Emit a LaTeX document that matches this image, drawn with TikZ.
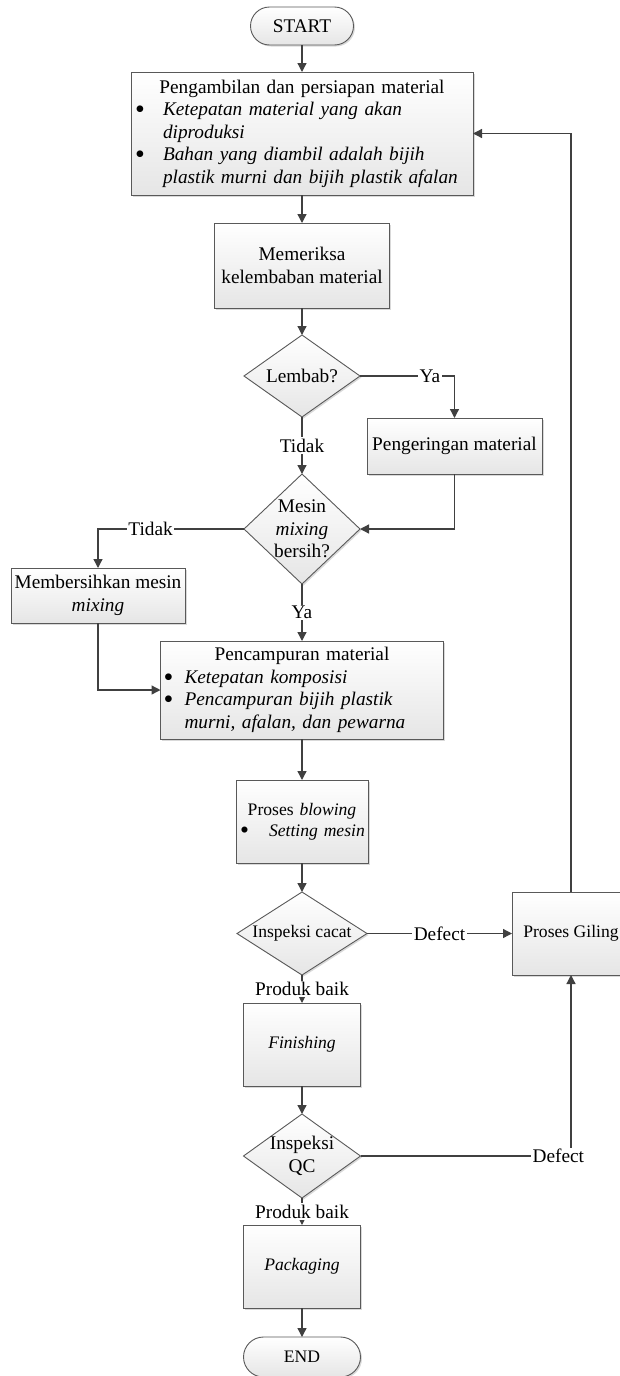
\documentclass[tikz,border=0pt]{standalone}
\usepackage{fontspec}
\setmainfont{Liberation Serif}
\usetikzlibrary{shapes.geometric,arrows.meta,shadows}
\definecolor{ln}{HTML}{404040}
\definecolor{bd}{HTML}{595959}
\newcommand\fsN{\fontsize{19.3}{22.5}\selectfont}
\newcommand\fsS{\fontsize{17.6}{21}\selectfont}
\newcommand\bigbul{\rlap{\raisebox{-2.6pt}[0pt][0pt]{\scalebox{1.45}{\textbullet}}}}
\newcommand\bitem[3]{\par\noindent\hangindent=#2\relax\hangafter=1\relax\makebox[#2][l]{\hspace{#1}\bigbul}\textit{#3}\par}
\begin{document}
\begin{tikzpicture}[x=1pt,y=-1pt,
  every node/.style={inner sep=0pt, outer sep=0pt},
  base/.style={draw=bd, line width=0.9pt, top color=white, bottom color=black!10,
    drop shadow={shadow xshift=1.5pt, shadow yshift=-1.5pt, opacity=0.3, fill=black!50}},
  box/.style={base, rectangle, font=\fsN, align=center},
  term/.style={box, rounded corners=19pt},
  dia/.style={base, diamond},
  lbl/.style={fill=white, inner sep=1.5pt, font=\fsN},
  conn/.style={draw=ln, line width=1.3pt},
  arr/.style={conn, -{Triangle[length=9pt,width=9pt]}}
]
\useasboundingbox (0,0) rectangle (619,1376);

\node[term, minimum width=103pt, minimum height=38pt] (start) at (302,26) {START};

\node[box, minimum width=342pt, minimum height=123pt, text width=342pt, align=left] (box1) at (302,133.5)
  {{\centering Pengambilan dan persiapan material\par}%
   \bitem{4pt}{32pt}{Ketepatan material yang akan\newline diproduksi}%
   \bitem{4pt}{32pt}{Bahan yang diambil adalah bijih\newline plastik murni dan bijih plastik afalan}};

\node[box, minimum width=175pt, minimum height=85pt] (box2) at (302,265.5) {Memeriksa\\kelembaban material};

\node[dia, minimum width=116pt, minimum height=82pt,
  label={[font=\fsN]center:Lembab?}] (d1) at (302,376) {};

\node[box, minimum width=175pt, minimum height=56pt] (peng) at (454.5,446) {Pengeringan material};

\node[dia, minimum width=116pt, minimum height=110pt,
  label={[font=\fsN, align=center]center:Mesin\\\textit{mixing}\\bersih?}] (d2) at (302,529) {};

\node[box, minimum width=174pt, minimum height=55pt] (mem) at (98,595.5) {Membersihkan mesin\\\textit{mixing}};

\node[box, minimum width=283pt, minimum height=98pt, text width=283pt, align=left] (pen) at (302,690)
  {{\centering Pencampuran material\par}%
   \bitem{3pt}{24pt}{Ketepatan komposisi}%
   \bitem{3pt}{24pt}{Pencampuran bijih plastik\newline murni, afalan, dan pewarna}};

\node[box, font=\fsS, minimum width=132pt, minimum height=83pt, text width=132pt, align=left] (blow) at (302,821.5)
  {{\centering Proses \textit{blowing}\par}%
   \bitem{4pt}{33pt}{\mbox{Setting mesin}}};

\node[dia, minimum width=130pt, minimum height=83pt,
  label={[font=\fsS]center:Inspeksi cacat}] (d3) at (302,933.5) {};

\node[box, font=\fsS, minimum width=118pt, minimum height=83pt] (gil) at (571,933.5) {Proses Giling};

\node[box, font=\fsS, minimum width=117pt, minimum height=83pt] (fin) at (302,1044.5) {\textit{Finishing}};

\node[dia, minimum width=117pt, minimum height=84pt,
  label={[font=\fsN, align=center]center:Inspeksi\\QC}] (qc) at (302,1156) {};

\node[box, font=\fsS, minimum width=117pt, minimum height=83pt] (pack) at (302,1266.5) {\textit{Packaging}};

\node[term, font=\fsS, rounded corners=20pt, minimum width=117pt, minimum height=40pt] (endn) at (302,1357) {END};

% connectors
\draw[arr] (start) -- (box1);
\draw[arr] (box1) -- (box2);
\draw[arr] (box2) -- (d1);
\draw[arr] (d1.east) -| node[lbl, pos=0.37] {Ya} (peng.north);
\draw[arr] (d1.south) -- node[lbl, midway] {Tidak} (d2.north);
\draw[arr] (peng.south) |- (d2.east);
\draw[arr] (d2.west) -| node[lbl, pos=0.32] {Tidak} (mem.north);
\draw[arr] (d2.south) -- node[lbl, midway] {Ya} (pen.north);
\draw[arr] (mem.south) |- (pen.west);
\draw[arr] (pen) -- (blow);
\draw[arr] (blow) -- (d3);
\draw[arr] (d3.east) -- node[lbl, midway] {Defect} (gil.west);
\draw[arr] (gil.north) |- (box1.east);
\draw[arr] (d3.south) -- node[lbl, midway] {Produk baik} (fin.north);
\draw[arr] (fin) -- (qc);
\draw[arr] (qc.east) -| node[lbl, pos=0.47] {Defect} (gil.south);
\draw[arr] (qc.south) -- node[lbl, midway] {Produk baik} (pack.north);
\draw[arr] (pack) -- (endn);
\end{tikzpicture}
\end{document}
